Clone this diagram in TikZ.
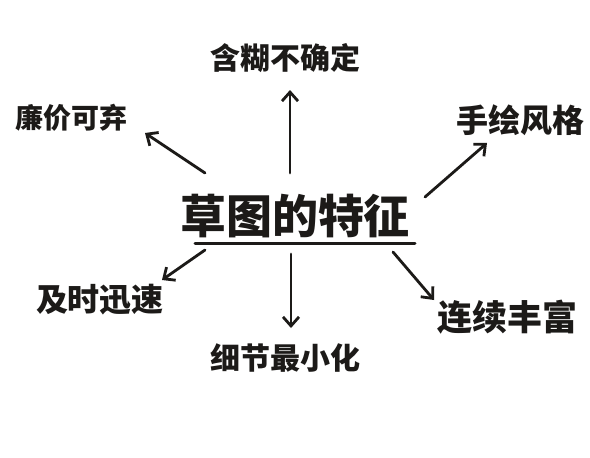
\documentclass[tikz,border=0pt]{standalone}
\usepackage{fontspec}
\newfontfamily\cjk{Noto Sans CJK SC}
\usetikzlibrary{arrows.meta}
\definecolor{ink}{HTML}{1C1A18}
\begin{document}
\begin{tikzpicture}[x=1pt,y=-1pt,
  lbl/.style={inner sep=0pt,text=ink,font=\cjk\bfseries\fontsize{30}{30}\selectfont},
  arr/.style={draw=ink,line width=2.8pt,line cap=round,-{Straight Barb[length=9pt,width=16pt,line width=2.8pt]}}]
\fill[white] (0,0) rectangle (590,458);
\useasboundingbox (0,0) rectangle (590,458);
\node[lbl,font=\cjk\bfseries\fontsize{46}{46}\selectfont] (c) at (295,216) {草图的特征};
\node[lbl] (t1) at (285,58) {含糊不确定};
\node[lbl,font=\cjk\bfseries\fontsize{28}{28}\selectfont] (t2) at (72,118) {廉价可弃};
\node[lbl,font=\cjk\bfseries\fontsize{32}{32}\selectfont] (t3) at (520,120) {手绘风格};
\node[lbl,font=\cjk\bfseries\fontsize{32}{32}\selectfont] (t4) at (100,300) {及时迅速};
\node[lbl] (t5) at (285,358) {细节最小化};
\node[lbl,font=\cjk\bfseries\fontsize{35}{35}\selectfont] (t6) at (507,317) {连续丰富};
\draw[draw=ink,line width=3pt,line cap=round] ([shift={(-100,27)}]c.center) -- ([shift={(120,27)}]c.center);
\draw[arr] ([shift={(-5,-43)}]c.center) -- ([shift={(5,32)}]t1.center);
\draw[arr] ([shift={(-90,-43)}]c.center) -- ([shift={(73,15)}]t2.center);
\draw[arr] ([shift={(130,-19)}]c.center) -- ([shift={(-33,23)}]t3.center);
\draw[arr] ([shift={(-90,34)}]c.center) -- ([shift={(62,-20)}]t4.center);
\draw[arr] ([shift={(-4,38)}]c.center) -- ([shift={(6,-30)}]t5.center);
\draw[arr] ([shift={(98,36)}]c.center) -- ([shift={(-73,-17)}]t6.center);
\end{tikzpicture}
\end{document}
